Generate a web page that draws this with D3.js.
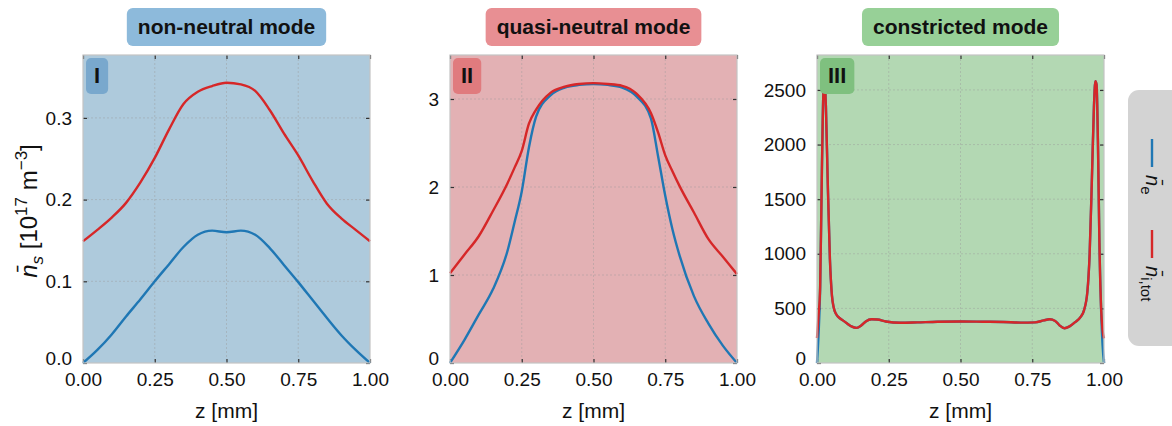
<!DOCTYPE html>
<html>
<head>
<meta charset="utf-8">
<script src="https://cdn.jsdelivr.net/npm/d3@7"></script>
<style>
body { margin: 0; background: #fff; }
text { font-family: "Liberation Sans", Arial, sans-serif; fill: #111; }
</style>
</head>
<body>
<svg class="chart" width="1172" height="426"></svg>
<script>
// panel I: non-neutral mode
var z1  = [0, 0.05, 0.1, 0.15, 0.2, 0.25, 0.3, 0.35, 0.4, 0.45, 0.5, 0.55, 0.6, 0.65, 0.7, 0.75, 0.8, 0.85, 0.9, 0.95, 1];
var ne1 = [0, 0.016, 0.035, 0.057, 0.078, 0.100, 0.121, 0.142, 0.157, 0.162, 0.160, 0.162, 0.157, 0.141, 0.120, 0.099, 0.077, 0.055, 0.034, 0.016, 0];
var ni1 = [0.149, 0.163, 0.178, 0.196, 0.221, 0.251, 0.286, 0.317, 0.332, 0.339, 0.343, 0.341, 0.333, 0.310, 0.281, 0.254, 0.223, 0.195, 0.177, 0.163, 0.149];

// panel II: quasi-neutral mode
var z2  = [0, 0.05, 0.1, 0.15, 0.2, 0.225, 0.25, 0.275, 0.3, 0.35, 0.4, 0.45, 0.5, 0.55, 0.6, 0.65, 0.7, 0.725, 0.75, 0.775, 0.8, 0.85, 0.9, 0.95, 1];
var ne2 = [0, 0.26, 0.55, 0.84, 1.27, 1.6, 1.95, 2.45, 2.8, 3.04, 3.13, 3.16, 3.17, 3.16, 3.13, 3.03, 2.78, 2.35, 1.9, 1.52, 1.22, 0.76, 0.45, 0.2, 0];
var ni2 = [1.02, 1.23, 1.44, 1.73, 2.04, 2.22, 2.41, 2.72, 2.88, 3.07, 3.14, 3.17, 3.18, 3.17, 3.15, 3.06, 2.84, 2.62, 2.36, 2.18, 2.01, 1.71, 1.41, 1.21, 1.01];

// panel III: constricted mode
var z3  = [0, 0.005, 0.011, 0.017, 0.022, 0.026, 0.031, 0.037, 0.045, 0.052, 0.058, 0.066, 0.075, 0.09, 0.105, 0.12, 0.138, 0.155, 0.17, 0.19, 0.21, 0.24, 0.29, 0.35, 0.42, 0.5, 0.58, 0.65, 0.71, 0.76, 0.79, 0.81, 0.83, 0.845, 0.862, 0.88, 0.9, 0.918, 0.93, 0.942, 0.95, 0.958, 0.965, 0.97, 0.974, 0.979, 0.984, 0.99, 0.995, 1];
var ni3 = [229, 420, 700, 1750, 2450, 2580, 2350, 1700, 950, 620, 510, 450, 420, 390, 362, 335, 322, 345, 380, 400, 398, 380, 368, 372, 378, 380, 378, 376, 370, 372, 390, 400, 385, 345, 318, 335, 375, 420, 480, 650, 1000, 1700, 2350, 2580, 2550, 2000, 1100, 500, 300, 226];
var ne3 = [0, 240, 680, 1750, 2450, 2580, 2350, 1700, 950, 620, 510, 450, 420, 390, 362, 335, 322, 345, 380, 400, 398, 380, 368, 372, 378, 380, 378, 376, 370, 372, 390, 400, 385, 345, 318, 335, 375, 420, 480, 650, 1000, 1700, 2350, 2580, 2550, 2000, 1100, 480, 165, 0];

var titles = ["non-neutral mode", "quasi-neutral mode", "constricted mode"];
var panelLabels = ["I", "II", "III"];
var xTicks = [0, 0.25, 0.5, 0.75, 1];
var yTicks = [[0, 0.1, 0.2, 0.3], [0, 1, 2, 3], [0, 500, 1000, 1500, 2000, 2500]];
var yMax = [0.377, 3.5, 2820];
var yFormats = [".1f", "d", "d"];
var legendNames = [["n\u0304", "e"], ["n\u0304", "i,tot"]];

var panels = [
  {z: z1, ne: ne1, ni: ni1},
  {z: z2, ne: ne2, ni: ni2},
  {z: z3, ne: ne3, ni: ni3}
];

var bgColors    = ["#aecadc", "#e3b1b4", "#b3d8b3"];
var titleColors = ["#8dbadb", "#e88f93", "#97d097"];
var labelColors = ["#79a8cd", "#e07b7e", "#7fc07f"];
var blue = "#1f77b4", red = "#d62728";

var lefts = [83, 450, 817];
var plotTop = 55, w = 287, h = 308;

var chart = d3.select(".chart");

panels.forEach(function(p, i) {
  var g = chart.append("g").attr("transform", "translate(" + lefts[i] + "," + plotTop + ")");

  var x = d3.scaleLinear().domain([0, 1]).range([0, w]);
  var y = d3.scaleLinear().domain([0, yMax[i]]).range([h, 0]);

  g.append("rect").attr("width", w).attr("height", h).style("fill", bgColors[i]);

  // grid
  g.selectAll(".gx").data(xTicks.slice(1, -1)).enter().append("line")
    .attr("x1", function(d) { return x(d); }).attr("x2", function(d) { return x(d); })
    .attr("y1", 0).attr("y2", h)
    .style("stroke", "#9a9a9a").style("stroke-opacity", 0.55).style("stroke-width", 0.8).style("stroke-dasharray", "2,2");
  g.selectAll(".gy").data(yTicks[i].slice(1)).enter().append("line")
    .attr("y1", function(d) { return y(d); }).attr("y2", function(d) { return y(d); })
    .attr("x1", 0).attr("x2", w)
    .style("stroke", "#9a9a9a").style("stroke-opacity", 0.55).style("stroke-width", 0.8).style("stroke-dasharray", "2,2");

  // axes, ticks pointing inward
  var ax = [
    g.append("g").attr("transform", "translate(0," + h + ")")
      .call(d3.axisBottom(x).tickValues(xTicks).tickFormat(d3.format(".2f")).tickSize(-4).tickPadding(10)),
    g.append("g").call(d3.axisTop(x).tickValues(xTicks).tickFormat("").tickSize(-4)),
    g.append("g").call(d3.axisLeft(y).tickValues(yTicks[i]).tickFormat(d3.format(yFormats[i])).tickSize(-4).tickPadding(11)),
    g.append("g").attr("transform", "translate(" + w + ",0)")
      .call(d3.axisRight(y).tickValues(yTicks[i]).tickFormat("").tickSize(-4))
  ];
  ax.forEach(function(a) {
    a.select(".domain").remove();
    a.selectAll("line").style("stroke", "#333").style("stroke-width", 1.2);
    a.selectAll("text").style("font-size", "19px").style("fill", "#111")
      .style("font-family", '"Liberation Sans", Arial, sans-serif');
  });
  // lift the zero label a little, as in the reference
  ax[2].selectAll(".tick text").filter(function(d) { return d === 0; }).attr("dy", "0.1em");

  // curves
  var line = d3.line().curve(d3.curveMonotoneX)
    .x(function(d, k) { return x(p.z[k]); }).y(function(d) { return y(d); });
  g.append("path").datum(p.ne).attr("d", line)
    .style("fill", "none").style("stroke", blue).style("stroke-width", 2.4);
  g.append("path").datum(p.ni).attr("d", line)
    .style("fill", "none").style("stroke", red).style("stroke-width", 2.4);

  // frame
  g.append("rect").attr("width", w).attr("height", h)
    .style("fill", "none").style("stroke", "#c4c4c4").style("stroke-width", 1.2);

  // panel label box
  var lt = g.append("text").text(panelLabels[i])
    .attr("x", 11).attr("y", 28)
    .style("font-size", "22px").style("font-weight", "bold");
  var lw = lt.node().getComputedTextLength();
  g.insert("rect", function() { return lt.node(); })
    .attr("x", 3).attr("y", 3).attr("width", lw + 16).attr("height", 36)
    .attr("rx", 5).style("fill", labelColors[i]);

  // title box
  var tt = g.append("text").text(titles[i])
    .attr("x", w / 2).attr("y", 34 - plotTop)
    .attr("text-anchor", "middle")
    .style("font-size", "21px").style("font-weight", "bold");
  var tw = tt.node().getComputedTextLength();
  g.insert("rect", function() { return tt.node(); })
    .attr("x", w / 2 - tw / 2 - 11).attr("y", 8 - plotTop)
    .attr("width", tw + 22).attr("height", 38)
    .attr("rx", 6).style("fill", titleColors[i]);

  // x label
  g.append("text").text("z [mm]")
    .attr("x", w / 2).attr("y", 418 - plotTop)
    .attr("text-anchor", "middle").style("font-size", "21px");
});

// y label
var yl = chart.append("text")
  .attr("transform", "translate(37,211) rotate(-90)")
  .attr("text-anchor", "middle").style("font-size", "24px");
yl.append("tspan").text("n\u0304").style("font-style", "italic");
yl.append("tspan").text("s").attr("dy", 6).style("font-size", "17px").style("font-style", "italic");
yl.append("tspan").text("  [10").attr("dy", -6);
yl.append("tspan").text("17").attr("dy", -10).style("font-size", "17px");
yl.append("tspan").text(" m").attr("dy", 10);
yl.append("tspan").text("\u22123").attr("dy", -10).style("font-size", "17px");
yl.append("tspan").text("]").attr("dy", 10);

// legend (rotated)
chart.append("rect")
  .attr("x", 1128).attr("y", 90).attr("width", 60).attr("height", 256)
  .attr("rx", 11).style("fill", "#d3d3d3");

var legendColors = [blue, red];
var legendY = [139, 230];
legendNames.forEach(function(n, i) {
  chart.append("line")
    .attr("x1", 1152).attr("x2", 1152)
    .attr("y1", legendY[i]).attr("y2", legendY[i] + 28)
    .style("stroke", legendColors[i]).style("stroke-width", 2.4);
  var t = chart.append("text")
    .attr("transform", "translate(1146," + (legendY[i] + 36) + ") rotate(90)")
    .style("font-size", "20px");
  t.append("tspan").text(n[0]).style("font-style", "italic");
  t.append("tspan").text(n[1]).attr("dy", 5).style("font-size", "15px");
});
</script>
</body>
</html>
